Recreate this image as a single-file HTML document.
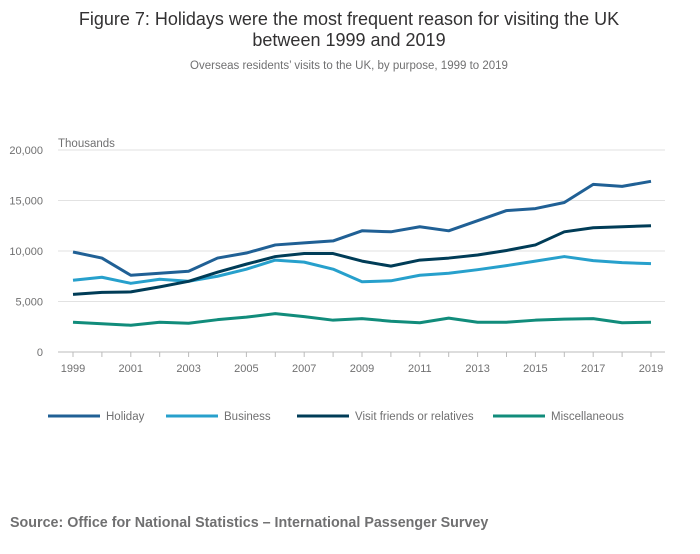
<!DOCTYPE html>
<html><head><meta charset="utf-8"><style>
body{margin:0;background:#fff;width:700px;height:549px;overflow:hidden;font-family:"Liberation Sans",sans-serif}
</style></head><body>
<svg id="chart" width="700" height="549" font-family="Liberation Sans, sans-serif">
<text x="349" y="25" text-anchor="middle" font-size="18" fill="#323132">Figure 7: Holidays were the most frequent reason for visiting the UK</text>
<text x="349" y="46" text-anchor="middle" font-size="18" fill="#323132">between 1999 and 2019</text>
<text x="349" y="69" text-anchor="middle" font-size="11.5" fill="#707071">Overseas residents’ visits to the UK, by purpose, 1999 to 2019</text>
<text x="58" y="147" font-size="11.5" fill="#707071">Thousands</text>
<text x="10" y="527" font-size="14.3" font-weight="bold" fill="#707071">Source: Office for National Statistics – International Passenger Survey</text>
<g id="grid"></g><g id="series"></g><g id="legend"></g>
</svg>
<script>
const years=[1999,2000,2001,2002,2003,2004,2005,2006,2007,2008,2009,2010,2011,2012,2013,2014,2015,2016,2017,2018,2019];
const holiday=[9900,9300,7600,7800,8000,9300,9800,10600,10800,11000,12000,11900,12400,12000,13000,14000,14200,14800,16600,16400,16900];
const business=[7100,7400,6800,7200,7000,7500,8200,9100,8900,8200,6950,7050,7600,7800,8150,8550,9000,9450,9050,8850,8750];
const vfr=[5700,5900,5950,6450,7000,7900,8700,9450,9750,9750,9000,8500,9100,9300,9600,10050,10600,11900,12300,12400,12500];
const misc=[2950,2800,2650,2950,2850,3200,3450,3800,3500,3150,3300,3050,2900,3350,2950,2950,3150,3250,3300,2900,2950];
const yTicks=[0,5000,10000,15000,20000];
const yTickLabels=["0","5,000","10,000","15,000","20,000"];
const seriesNames=["Holiday","Business","Visit friends or relatives","Miscellaneous"];
const NS="http://www.w3.org/2000/svg";
const x=y=>73+(y-1999)*(651-73)/20;
const yv=v=>352-v*(352-150)/20000;
function mk(t,a,p){const e=document.createElementNS(NS,t);for(const k in a)e.setAttribute(k,a[k]);p.appendChild(e);return e;}
const grid=document.getElementById('grid');
yTicks.forEach((t,i)=>{
  const l=mk('line',{x1:58,x2:665,y1:yv(t),y2:yv(t),stroke:t===0?'#bbb':'#e2e2e2','stroke-width':1},grid);
  
  
  const tx=mk('text',{x:43,y:yv(t)+4,'text-anchor':'end','font-size':11,fill:'#707071'},grid);
  tx.textContent=yTickLabels[i];
  
  
});
years.forEach(yr=>{
  const t=mk('line',{x1:x(yr),x2:x(yr),y1:352,y2:357,stroke:'#bbb'},grid);
  
  
  if((yr-1999)%2===0){
    const tx=mk('text',{x:x(yr),y:372,'text-anchor':'middle','font-size':11,fill:'#707071'},grid);
    tx.textContent=yr;
    
    
  }
});
const colors=['#206095','#27a0cc','#003c57','#118c7b'];
const data=[holiday,business,vfr,misc];
const sg=document.getElementById('series');
data.forEach((d,i)=>{
  const p=mk('polyline',{points:d.map((v,j)=>x(years[j])+','+yv(v)).join(' '),fill:'none',stroke:colors[i],'stroke-width':3,'stroke-linejoin':'round'},sg);
  
  
});
const lg=document.getElementById('legend');
const lx=[48,166,297,493];
seriesNames.forEach((n,i)=>{
  const g=mk('g',{},lg);
  
  
  mk('line',{x1:lx[i],x2:lx[i]+52,y1:416,y2:416,stroke:colors[i],'stroke-width':3},g);
  const t=mk('text',{x:lx[i]+58,y:420,'font-size':11.5,fill:'#707071'},g);
  t.textContent=n;
});
</script>
</body></html>
